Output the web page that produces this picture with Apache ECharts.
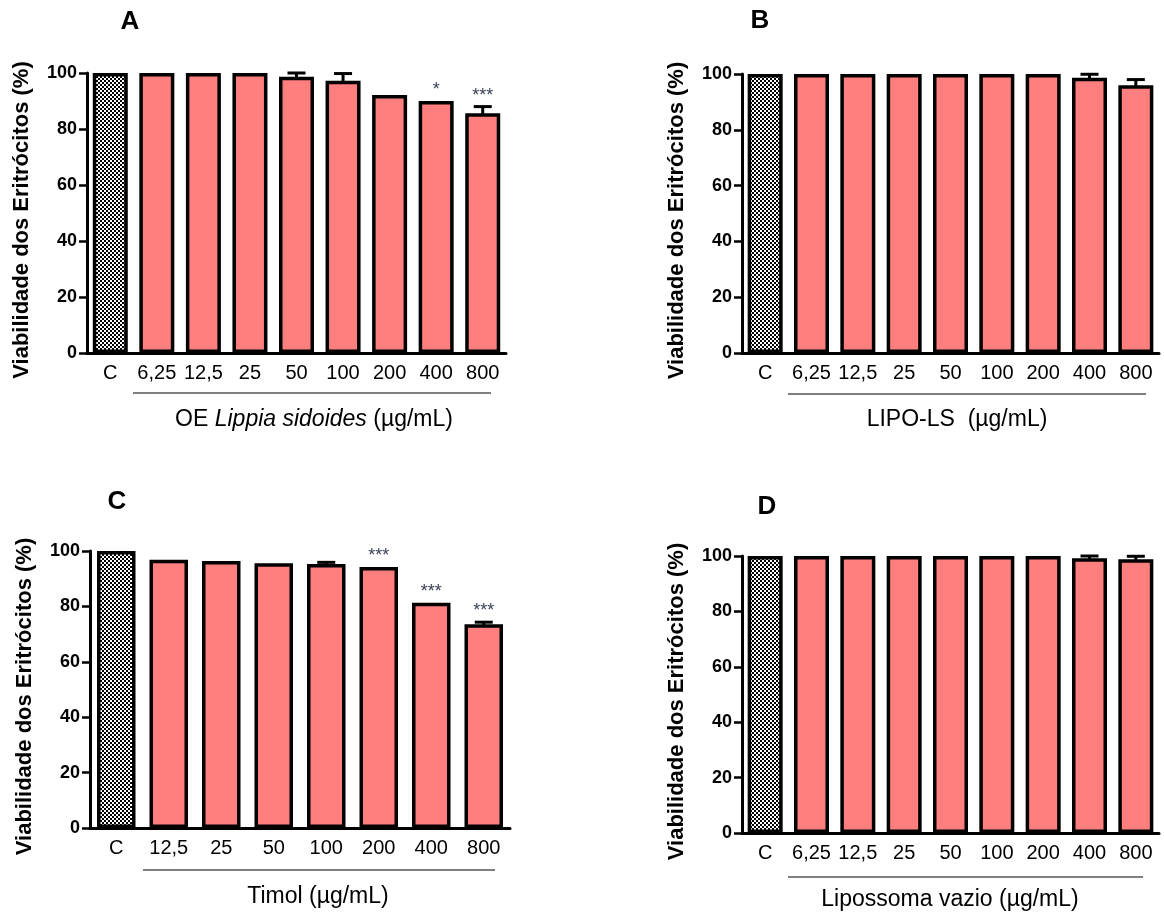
<!DOCTYPE html>
<html><head><meta charset="utf-8">
<script src="https://cdn.jsdelivr.net/npm/echarts@6/dist/echarts.min.js"></script>
<style>html,body{margin:0;padding:0;background:#fff}#c{width:1164px;height:913px}</style>
</head><body><div id="c"></div>
<script>
// ---- Data ----
const catsA = ['C','6,25','12,5','25','50','100','200','400','800'];
const valsA = [100,100,100,100,98.7,97.2,92.1,90,85.6];
const errA  = [0,0,0,0,1.3,2.6,0,0,2.4];
const sigA  = ['','','','','','','','*','***'];

const catsB = ['C','6,25','12,5','25','50','100','200','400','800'];
const valsB = [100,100,100,100,100,100,100,98.7,96];
const errB  = [0,0,0,0,0,0,0,1.2,2];
const sigB  = ['','','','','','','','',''];

const catsC = ['C','12,5','25','50','100','200','400','800'];
const valsC = [100,96.8,96.4,95.6,95.3,94.2,81.3,73.6];
const errC  = [0,0,0,0,0.6,0,0,0.7];
const sigC  = ['','','','','','***','***','***'];

const catsD = ['C','6,25','12,5','25','50','100','200','400','800'];
const valsD = [100,100,100,100,100,100,100,99.2,98.8];
const errD  = [0,0,0,0,0,0,0,0.8,1.1];
const sigD  = ['','','','','','','','',''];

const yTicks = [0,20,40,60,80,100];

// ---- Chart ----
const FONT = '"Liberation Sans", Arial, sans-serif';
const pc = document.createElement('canvas');
pc.width = 4; pc.height = 4;
const pctx = pc.getContext('2d');
pctx.fillStyle = '#fff'; pctx.fillRect(0,0,4,4);
pctx.fillStyle = '#000'; pctx.fillRect(0,0,2,2); pctx.fillRect(2,2,2,2);
const pattern = {image: pc, repeat: 'repeat'};

const panels = [
  {cats: catsA, vals: valsA, err: errA, sig: sigA, grid: {left: 87, top: 73, width: 419, height: 280}, barW: 35},
  {cats: catsB, vals: valsB, err: errB, sig: sigB, grid: {left: 742, top: 74, width: 417, height: 279}, barW: 35},
  {cats: catsC, vals: valsC, err: errC, sig: sigC, grid: {left: 90, top: 551, width: 420, height: 277}, barW: 38.5},
  {cats: catsD, vals: valsD, err: errD, sig: sigD, grid: {left: 742, top: 556, width: 417, height: 277}, barW: 35}
];

const grid = [], xAxis = [], yAxis = [], series = [], graphic = [];
panels.forEach((p, k) => {
  grid.push(Object.assign({containLabel: false}, p.grid));
  xAxis.push({
    type: 'category', gridIndex: k, data: p.cats,
    axisLine: {show: true, lineStyle: {color: '#000', width: 3}},
    axisTick: {show: false},
    axisLabel: {color: '#000', fontFamily: FONT, fontSize: 20, margin: 10, interval: 0},
    splitLine: {show: false}
  });
  yAxis.push({
    type: 'value', gridIndex: k, min: 0, max: 100, interval: 20,
    name: 'Viabilidade dos Eritrócitos (%)', nameLocation: 'middle', nameGap: 54,
    nameTextStyle: {fontFamily: FONT, fontSize: 22, fontWeight: 'bold', color: '#000', padding: [0, 14, 0, 0]},
    axisLine: {show: true, lineStyle: {color: '#000', width: 3}},
    axisTick: {show: true, length: 8, lineStyle: {color: '#000', width: 2.5}},
    axisLabel: {color: '#000', fontFamily: FONT, fontSize: 18, fontWeight: 'bold', margin: 10,
      formatter: v => yTicks.includes(v) ? String(v) : ''},
    splitLine: {show: false}
  });
  series.push({
    type: 'bar', xAxisIndex: k, yAxisIndex: k, barWidth: p.barW,
    data: p.vals.map((v, i) => i === 0 ? {value: v, itemStyle: {color: pattern}} : v),
    itemStyle: {color: '#FF7F7F', borderColor: '#000', borderWidth: 3.5},
    z: 2, silent: true
  });
  series.push({
    type: 'custom', xAxisIndex: k, yAxisIndex: k, z: 3, silent: true,
    data: p.vals.map((v, i) => [i, v, p.err[i]]),
    renderItem: (params, api) => {
      const i = api.value(0), v = api.value(1), e = api.value(2);
      const base = api.coord([i, v]);
      const top = api.coord([i, v + e]);
      const children = [];
      if (e > 0) {
        children.push({type: 'line', shape: {x1: base[0], y1: base[1] + 2, x2: top[0], y2: top[1]},
          style: {stroke: '#000', lineWidth: 3}});
        children.push({type: 'line', shape: {x1: top[0] - 9, y1: top[1], x2: top[0] + 9, y2: top[1]},
          style: {stroke: '#000', lineWidth: 3}});
      }
      const s = p.sig[params.dataIndex];
      if (s) {
        children.push({type: 'text', x: top[0], y: top[1] - 2,
          style: {text: s, fill: '#3c4258', font: '18px ' + FONT, textAlign: 'center', textVerticalAlign: 'bottom'}});
      }
      return {type: 'group', children};
    }
  });
});

// underline brackets below category labels, axis titles, panel letters
const lines = [[133, 491, 393], [788, 1146, 394], [143, 495, 870], [788, 1143, 877]];
lines.forEach(l => graphic.push({type: 'line', shape: {x1: l[0], y1: l[2], x2: l[1], y2: l[2]},
  style: {stroke: '#000', lineWidth: 1.2}}));
const titles = [
  ['{n|OE }{i|Lippia sidoides}{n| (µg/mL)}', 314, 420],
  ['{n|LIPO-LS  (µg/mL)}', 957, 420],
  ['{n|Timol (µg/mL)}', 318, 897],
  ['{n|Lipossoma vazio (µg/mL)}', 950, 900]
];
titles.forEach(t => graphic.push({type: 'text', x: t[1], y: t[2],
  style: {text: t[0], align: 'center', verticalAlign: 'middle',
    rich: {n: {fontFamily: FONT, fontSize: 23, fill: '#000'},
           i: {fontFamily: FONT, fontSize: 23, fill: '#000', fontStyle: 'italic'}}}}));
const letters = [['A', 130, 22], ['B', 760, 21], ['C', 117, 502], ['D', 767, 507]];
letters.forEach(t => graphic.push({type: 'text', x: t[1], y: t[2],
  style: {text: t[0], font: 'bold 26px ' + FONT, fill: '#000', align: 'center', verticalAlign: 'middle'}}));

const chart = echarts.init(document.getElementById('c'), null, {renderer: 'canvas'});
chart.setOption({animation: false, backgroundColor: '#fff', grid, xAxis, yAxis, series, graphic});
</script></body></html>
